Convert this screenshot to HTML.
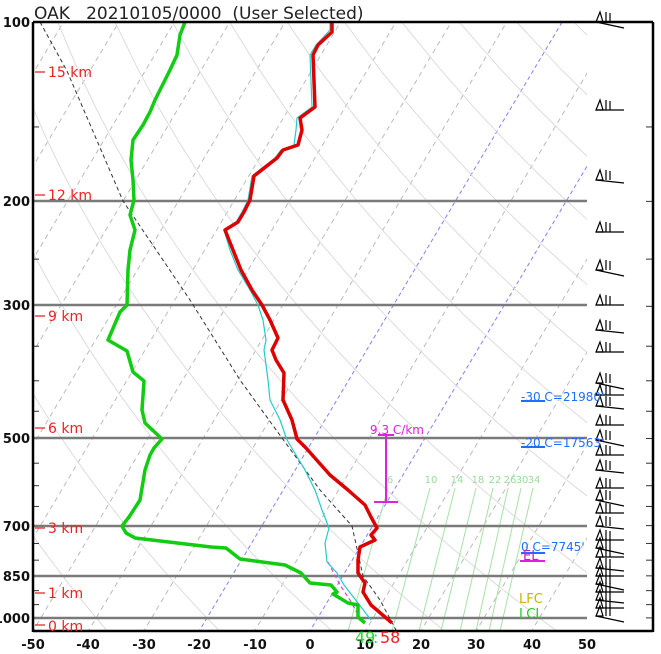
<!DOCTYPE html>
<html><head><meta charset="utf-8"><style>
body{margin:0;background:#fff;}
svg{display:block;font-family:"DejaVu Sans","Liberation Sans",sans-serif;}
</style></head><body>
<svg id="s" width="661" height="654" viewBox="0 0 661 654" xmlns="http://www.w3.org/2000/svg">
<defs><clipPath id="c"><rect x="33" y="22" width="554" height="609"/></clipPath></defs>
<g id="grid" clip-path="url(#c)"></g>
<g stroke="#7a7a7a" stroke-width="2.5">
<line x1="33" y1="201" x2="587" y2="201"/><line x1="33" y1="305" x2="587" y2="305"/>
<line x1="33" y1="438" x2="587" y2="438"/><line x1="33" y1="526" x2="587" y2="526"/>
<line x1="33" y1="576" x2="587" y2="576"/><line x1="33" y1="618" x2="587" y2="618"/>
</g>
<g id="ticks" stroke="#333" stroke-width="1"></g>
<g fill="none" stroke-linejoin="round">
<polyline stroke="#333" stroke-width="1" stroke-dasharray="4,3" points="40,22 67,71 123,201 190,300 240,380 282,438 320,490 352,526 363,576 380,600 396,630"/>
<polyline stroke="#e040e0" stroke-width="1.2" stroke-dasharray="4,3" points="328,562 340,585 350,600 357,613"/>
<polyline stroke="#22cccc" stroke-width="1.2" points="330,22 330,30 316,45 310,55 312,107 297,118 296,130 294,145 281,150 275,158 252,176 248,200 242,212 236,222 224,230 230,250 238,270 250,290 258,305 263,320 266,340 264,350 268,380 270,400 280,420 287,440 296,455 305,470 315,490 322,510 329,528 325,543 327,562 337,573 344,585 358,603 371,620"/>
<polyline stroke="#dd0000" stroke-width="3.5" points="332,22 332,32 318,45 313,55 315,107 300,118 302,130 298,145 283,150 277,158 254,176 250,200 244,212 238,222 225,230 233,250 241,270 252,290 262,305 270,320 278,338 272,350 276,360 284,373 283,400 292,420 297,439 306,448 330,475 348,490 365,505 371,517 377,528 371,535 375,540 360,547 358,560 358,573 365,583 363,592 371,605 392,623"/>
<polyline stroke="#11cc11" stroke-width="3.5" points="185,22 180,35 177,55 170,70 155,100 150,112 143,125 133,140 131,160 133,180 134,200 130,215 135,230 130,250 128,270 127,305 120,312 108,340 127,351 133,372 144,381 142,410 145,423 162,439 154,448 150,455 145,470 140,500 129,517 122,526 126,533 135,538 211,547 226,548 240,559 285,565 301,573 310,583 331,585 337,592 333,594 348,603 358,605 358,617 365,623"/>
</g>
<g stroke="#e020e0" stroke-width="2"><line x1="386" y1="435" x2="386" y2="502"/><line x1="378" y1="435" x2="394" y2="435"/><line x1="374" y1="502" x2="398" y2="502"/><line x1="520" y1="561" x2="545" y2="561"/></g>
<g stroke="#1e6fff" stroke-width="2"><line x1="521" y1="401" x2="545" y2="401"/><line x1="521" y1="447" x2="545" y2="447"/><line x1="521" y1="553" x2="545" y2="553"/></g>
<g id="barbs" stroke="#000" stroke-width="1.2" fill="none"></g>
<g fill="none" stroke="#000" stroke-width="2.5"><line x1="33" y1="22" x2="33" y2="632"/><line x1="33" y1="22" x2="653" y2="22"/><line x1="33" y1="631" x2="653" y2="631"/><line x1="653" y1="22" x2="653" y2="632"/></g>
<text x="34" y="19" font-size="17" fill="#222">OAK&#160;&#160;&#160;20210105/0000&#160;&#160;(User Selected)</text>
<g font-size="13" font-weight="bold" fill="#111" text-anchor="end">
<text x="30" y="27">100</text><text x="30" y="206">200</text><text x="30" y="310">300</text><text x="30" y="443">500</text><text x="30" y="531">700</text><text x="30" y="581">850</text><text x="30" y="623">1000</text>
</g>
<g font-size="13" font-weight="bold" fill="#111" text-anchor="middle">
<text x="33" y="649">-50</text><text x="88" y="649">-40</text><text x="144" y="649">-30</text><text x="199" y="649">-20</text><text x="255" y="649">-10</text><text x="310" y="649">0</text><text x="365" y="649">10</text><text x="421" y="649">20</text><text x="476" y="649">30</text><text x="532" y="649">40</text><text x="587" y="649">50</text>
</g>
<g font-size="14" fill="#ee2222"><text x="48" y="77">15 km</text><text x="48" y="200">12 km</text><text x="48" y="321">9 km</text><text x="48" y="433">6 km</text><text x="48" y="533">3 km</text><text x="48" y="598">1 km</text><text x="48" y="631">0 km</text></g>
<g stroke="#ee4444" stroke-width="1.5"><line x1="35" y1="72" x2="45" y2="72"/><line x1="35" y1="195" x2="45" y2="195"/><line x1="35" y1="316" x2="45" y2="316"/><line x1="35" y1="428" x2="45" y2="428"/><line x1="35" y1="528" x2="45" y2="528"/><line x1="35" y1="593" x2="45" y2="593"/><line x1="35" y1="625" x2="45" y2="625"/></g>
<text x="370" y="434" font-size="12" fill="#e020e0">9.3 C/km</text>
<g font-size="12" fill="#1e6fff"><text x="521" y="401">-30 C=21980'</text><text x="521" y="447">-20 C=17563'</text><text x="521" y="551">0 C=7745'</text></g>
<text x="523" y="560" font-size="13" fill="#c020c0">EL</text>
<text x="519" y="603" font-size="13" fill="#c8b400">LFC</text>
<text x="519" y="618" font-size="13" fill="#22cc22">LCL</text>
<g font-size="10" fill="#99dd99" text-anchor="middle"><text x="390" y="483">6</text><text x="431" y="483">10</text><text x="457" y="483">14</text><text x="478" y="483">18</text><text x="495" y="483">22</text><text x="510" y="483">26</text><text x="522" y="483">30</text><text x="534" y="483">34</text></g>
<text x="355" y="643" font-size="16" fill="#22dd22">49</text>
<text x="373" y="643" font-size="16" fill="#22cccc">:</text>
<text x="380" y="643" font-size="16" fill="#ee2222">58</text>
<script>
var NS="http://www.w3.org/2000/svg";
function Y(p){return 22+258.8*Math.log(p/100);}
function X(T,p){return 310+5.54*T+0.596*(631-Y(p));}
function el(par,tag,a){var e=document.createElementNS(NS,tag);for(var k in a)e.setAttribute(k,a[k]);par.appendChild(e);return e;}
var g=document.getElementById("grid");
for(var T=-150;T<=50;T+=10){ if(T==0||T==-20)continue;
 el(g,"line",{x1:X(T,1060),y1:Y(1060),x2:X(T,100),y2:Y(100),stroke:"#bbb","stroke-width":1,"stroke-dasharray":"5,4"});}
[0,-20].forEach(function(T){el(g,"line",{x1:X(T,1060),y1:Y(1060),x2:X(T,100),y2:Y(100),stroke:"#8080ff","stroke-width":1,"stroke-dasharray":"4,3"});});
for(var th=-40;th<=220;th+=20){var pts=[];for(var p=100;p<=1060;p+=20){var t=(th+273.15)*Math.pow(p/1000,0.286)-273.15;pts.push(X(t,p).toFixed(1)+","+Y(p).toFixed(1));}
 el(g,"polyline",{points:pts.join(" "),fill:"none",stroke:"#dcdcdc","stroke-width":1});}
var tops=[388,430,455,476,493,508,521,533],bots=[348,392,419,441,460,476,489,500];
for(var i=0;i<8;i++)el(g,"line",{x1:tops[i],y1:488,x2:bots[i],y2:631,stroke:"#a8e0a8","stroke-width":1});
var tk=document.getElementById("ticks");
[150,250,350,400,450,550,600,650,750,800,900,950].forEach(function(p){el(tk,"line",{x1:33,y1:Y(p),x2:39,y2:Y(p)});});
[100,150,200,250,300,350,400,450,500,550,600,650,700,750,800,850,900,950,1000].forEach(function(p){el(tk,"line",{x1:646,y1:Y(p),x2:653,y2:Y(p)});});
var b=document.getElementById("barbs");
var ys=[22,110,180,232,270,305,330,352,383,395,406,425,440,455,470,488,500,513,526,540,548,557,568,576,584,592,600,608,616];
ys.forEach(function(y,i){var tilt=(i%4==0)?-6:(i%4==2?-3:0);
 el(b,"line",{x1:596,y1:y,x2:624,y2:y+tilt*-1});
 el(b,"polygon",{points:(596)+","+y+" "+(600)+","+(y-10)+" "+(603)+","+y});
 el(b,"line",{x1:606,y1:y,x2:606,y2:y-10});
 el(b,"line",{x1:610,y1:y,x2:610,y2:y-9});
});
</script>
</svg>
</body></html>
